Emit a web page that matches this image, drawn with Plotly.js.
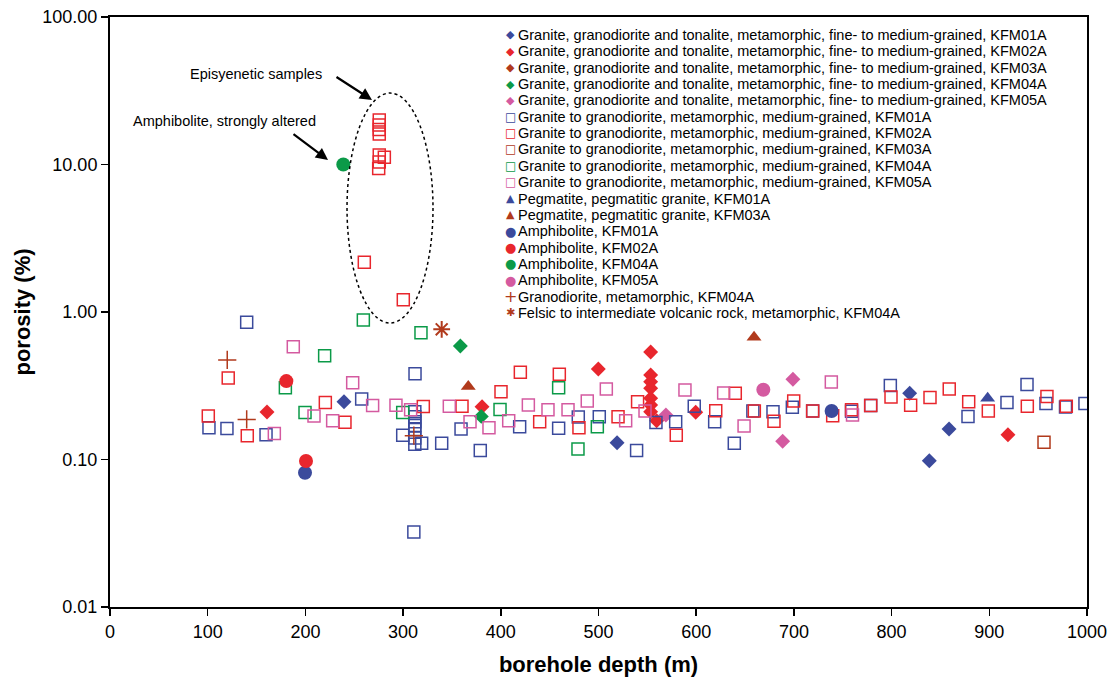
<!DOCTYPE html>
<html>
<head>
<meta charset="utf-8">
<script src="https://cdn.plot.ly/plotly-3.0.1.min.js"></script>
<style>html,body{margin:0;padding:0;background:#fff;}#chart{width:1115px;height:684px;}</style>
</head>
<body>
<div id="chart"></div>
<script>
// ---- data (depth m, porosity %) ----
const fineKFM01A_x = [239.5, 519, 818.5, 838.6, 858.8];
const fineKFM01A_y = [0.246, 0.130, 0.281, 0.098, 0.161];
const fineKFM02A_x = [160.7, 380.8, 499.8, 553.4, 553.4, 553.4, 553.4, 553.4, 553.4, 553.4, 559.5, 599.5, 919.1];
const fineKFM02A_y = [0.210, 0.228, 0.411, 0.535, 0.374, 0.337, 0.304, 0.260, 0.234, 0.211, 0.183, 0.209, 0.147];
const fineKFM03A_x = [];
const fineKFM03A_y = [];
const fineKFM04A_x = [358.6, 380];
const fineKFM04A_y = [0.588, 0.196];
const fineKFM05A_x = [569, 699, 688.5];
const fineKFM05A_y = [0.200, 0.350, 0.133];

const medKFM01A_x = [101.3, 119.7, 139.9, 159.7, 257.6, 299.6, 312.2, 312, 312, 312, 312, 312, 312, 312, 311, 319, 339.5, 359.3, 379, 419.3, 459.2, 479.3, 500.8, 539, 558.8, 579, 598, 618.9, 639, 658, 678.6, 698.4, 719.2, 759, 778.6, 798.7, 878.2, 918.1, 938.6, 958, 978, 997.9];
const medKFM01A_y = [0.164, 0.162, 0.851, 0.147, 0.257, 0.146, 0.382, 0.211, 0.195, 0.180, 0.170, 0.160, 0.140, 0.127, 0.0322, 0.129, 0.129, 0.161, 0.115, 0.167, 0.163, 0.194, 0.195, 0.115, 0.178, 0.180, 0.230, 0.180, 0.129, 0.213, 0.211, 0.226, 0.213, 0.212, 0.232, 0.317, 0.196, 0.243, 0.323, 0.240, 0.227, 0.240];
const medKFM02A_x = [100.6, 121, 140.5, 220.4, 240.5, 260.3, 275.6, 275.6, 275.6, 275.6, 275.6, 280.8, 275.6, 275, 300.2, 320.7, 360.3, 400.2, 420, 439.8, 459.9, 480, 520, 540, 579.6, 620, 640, 659.5, 679.6, 699.8, 719.2, 739.7, 759, 778.6, 799.4, 819.5, 839.3, 859, 878.9, 899, 938.9, 959, 978.8];
const medKFM02A_y = [0.197, 0.357, 0.145, 0.243, 0.179, 2.17, 20.0, 18.5, 17.3, 16.1, 11.6, 11.2, 10.4, 9.4, 1.21, 0.229, 0.230, 0.288, 0.390, 0.180, 0.378, 0.164, 0.195, 0.246, 0.146, 0.214, 0.281, 0.213, 0.182, 0.249, 0.213, 0.198, 0.217, 0.232, 0.265, 0.233, 0.263, 0.301, 0.246, 0.213, 0.230, 0.267, 0.230];
const medKFM03A_x = [956];
const medKFM03A_y = [0.131];
const medKFM04A_x = [179.5, 199.6, 219.7, 259.3, 299.6, 318.3, 399.2, 459.2, 479, 498.8];
const medKFM04A_y = [0.307, 0.208, 0.506, 0.883, 0.208, 0.724, 0.218, 0.307, 0.118, 0.167];
const medKFM05A_x = [168.2, 187.6, 208.8, 227.9, 248.4, 268.8, 292.7, 307.7, 347.3, 368.5, 387.9, 408.1, 428.2, 448.3, 468.8, 488.5, 508, 527.8, 547.6, 588.5, 628.1, 649, 738.3, 760];
const medKFM05A_y = [0.150, 0.582, 0.197, 0.183, 0.332, 0.232, 0.233, 0.217, 0.230, 0.180, 0.164, 0.183, 0.234, 0.217, 0.217, 0.249, 0.301, 0.183, 0.213, 0.296, 0.282, 0.169, 0.335, 0.200];

const pegKFM01A_x = [898.3];
const pegKFM01A_y = [0.26];
const pegKFM03A_x = [366.7, 659.2];
const pegKFM03A_y = [0.312, 0.673];

const amphKFM01A_x = [199.6, 738.6];
const amphKFM01A_y = [0.0814, 0.213];
const amphKFM02A_x = [180.5, 200.6];
const amphKFM02A_y = [0.340, 0.0977];
const amphKFM04A_x = [238.8];
const amphKFM04A_y = [10.0];
const amphKFM05A_x = [668.7];
const amphKFM05A_y = [0.297];

const granodKFM04A_x = [120, 139.9, 311];
const granodKFM04A_y = [0.473, 0.187, 0.145];
const felsicKFM04A_x = [339.5];
const felsicKFM04A_y = [0.763];

const yTickVals = [0.01, 0.1, 1, 10, 100];
const yTickText = ['0.01', '0.10', '1.00', '10.00', '100.00'];

// ---- styles ----
const C = {blue: '#3b4a9c', red: '#e8262d', brown: '#b13a1c', green: '#0b9a48', pink: '#d45aa0'};
const FINE = 'Granite, granodiorite and tonalite, metamorphic, fine- to medium-grained, ';
const MED = 'Granite to granodiorite, metamorphic, medium-grained, ';
const FONT = 'Liberation Sans, Arial, Helvetica, sans-serif';

// series definitions: [name, x, y, plotly symbol, colour, size, open, line width, legend glyph]
const series = [
  [FINE + 'KFM01A', fineKFM01A_x, fineKFM01A_y, 'diamond', C.blue, 11.5, false, 0, '\u25C6'],
  [FINE + 'KFM02A', fineKFM02A_x, fineKFM02A_y, 'diamond', C.red, 11.5, false, 0, '\u25C6'],
  [FINE + 'KFM03A', fineKFM03A_x, fineKFM03A_y, 'diamond', C.brown, 11.5, false, 0, '\u25C6'],
  [FINE + 'KFM04A', fineKFM04A_x, fineKFM04A_y, 'diamond', C.green, 11.5, false, 0, '\u25C6'],
  [FINE + 'KFM05A', fineKFM05A_x, fineKFM05A_y, 'diamond', C.pink, 11.5, false, 0, '\u25C6'],
  [MED + 'KFM01A', medKFM01A_x, medKFM01A_y, 'square-open', C.blue, 12, true, 1.5, '\u25A1'],
  [MED + 'KFM02A', medKFM02A_x, medKFM02A_y, 'square-open', C.red, 12, true, 1.5, '\u25A1'],
  [MED + 'KFM03A', medKFM03A_x, medKFM03A_y, 'square-open', C.brown, 12, true, 1.5, '\u25A1'],
  [MED + 'KFM04A', medKFM04A_x, medKFM04A_y, 'square-open', C.green, 12, true, 1.5, '\u25A1'],
  [MED + 'KFM05A', medKFM05A_x, medKFM05A_y, 'square-open', C.pink, 12, true, 1.5, '\u25A1'],
  ['Pegmatite, pegmatitic granite, KFM01A', pegKFM01A_x, pegKFM01A_y, 'triangle-up', C.blue, 13, false, 0, '\u25B2'],
  ['Pegmatite, pegmatitic granite, KFM03A', pegKFM03A_x, pegKFM03A_y, 'triangle-up', C.brown, 13, false, 0, '\u25B2'],
  ['Amphibolite, KFM01A', amphKFM01A_x, amphKFM01A_y, 'circle', C.blue, 14, false, 0, '\u25CF'],
  ['Amphibolite, KFM02A', amphKFM02A_x, amphKFM02A_y, 'circle', C.red, 14, false, 0, '\u25CF'],
  ['Amphibolite, KFM04A', amphKFM04A_x, amphKFM04A_y, 'circle', C.green, 14, false, 0, '\u25CF'],
  ['Amphibolite, KFM05A', amphKFM05A_x, amphKFM05A_y, 'circle', C.pink, 14, false, 0, '\u25CF'],
  ['Granodiorite, metamorphic, KFM04A', granodKFM04A_x, granodKFM04A_y, 'cross-thin-open', C.brown, 13, true, 1.5, '+'],
  ['Felsic to intermediate volcanic rock, metamorphic, KFM04A', felsicKFM04A_x, felsicKFM04A_y, 'asterisk-open', C.brown, 14, true, 2, '\u2731']
];

const data = series.map(s => ({
  type: 'scatter', mode: 'markers', name: s[0], x: s[1], y: s[2], showlegend: false,
  marker: s[6]
    ? {symbol: s[3], size: s[5], color: s[4], line: {color: s[4], width: s[7]}}
    : {symbol: s[3], size: s[5], color: s[4], line: {width: 0}}
}));

// ---- layout geometry (pixels) ----
const W = 1115, H = 684;
const M = {l: 110, r: 28, t: 17, b: 77};
const PW = W - M.l - M.r, PH = H - M.t - M.b;
const px2paperX = px => (px - M.l) / PW;
const px2paperY = py => 1 - (py - M.t) / PH;

// legend drawn as text lines (tight line spacing like the original)
const LEG_X_KEY = 510, LEG_X_TEXT = 516, LEG_Y0 = 35, LEG_DY = 16.35;
const glyphSizes = {'\u25C6': 11, '\u25A1': 12, '\u25B2': 11, '\u25CF': 13, '+': 16, '\u2731': 11};
const annotations = [];
series.forEach((s, i) => {
  const y = px2paperY(LEG_Y0 + i * LEG_DY);
  annotations.push({xref: 'paper', yref: 'paper', x: px2paperX(LEG_X_KEY), y: y, xanchor: 'center', yanchor: 'middle',
    text: s[8], showarrow: false, font: {family: 'DejaVu Sans, sans-serif', size: glyphSizes[s[8]], color: s[4]}});
  annotations.push({xref: 'paper', yref: 'paper', x: px2paperX(LEG_X_TEXT), y: y, xanchor: 'left', yanchor: 'middle',
    text: s[0], showarrow: false, font: {family: FONT, size: 14.5, color: '#000'}});
});

annotations.push(
  {xref: 'paper', yref: 'paper', x: px2paperX(256), y: px2paperY(74), xanchor: 'center', yanchor: 'middle',
   text: 'Episyenetic samples', showarrow: false, font: {family: FONT, size: 14.5, color: '#000'}},
  {xref: 'paper', yref: 'paper', x: px2paperX(224), y: px2paperY(120.5), xanchor: 'center', yanchor: 'middle',
   text: 'Amphibolite, strongly altered', showarrow: false, font: {family: FONT, size: 14.5, color: '#000'}},
  {xref: 'paper', yref: 'paper', x: px2paperX(372), y: px2paperY(100), text: '', showarrow: true,
   arrowhead: 2, arrowsize: 1.1, arrowwidth: 2.2, arrowcolor: '#000', ax: -37, ay: -24},
  {xref: 'paper', yref: 'paper', x: px2paperX(328), y: px2paperY(160), text: '', showarrow: true,
   arrowhead: 2, arrowsize: 1.1, arrowwidth: 2.2, arrowcolor: '#000', ax: -36, ay: -27}
);

const layout = {
  width: W, height: H,
  margin: M,
  paper_bgcolor: '#fff', plot_bgcolor: '#fff',
  font: {family: FONT, color: '#000'},
  showlegend: false,
  xaxis: {
    range: [0, 1000], dtick: 100, tick0: 0,
    showgrid: false, zeroline: false,
    showline: true, linecolor: '#000', linewidth: 2, mirror: true,
    ticks: 'outside', ticklen: 7, tickcolor: '#000', tickwidth: 1.5,
    tickfont: {family: FONT, size: 18, color: '#000'},
    title: {text: '<b>borehole depth (m)</b>', font: {family: FONT, size: 22, color: '#000'}, standoff: 16}
  },
  yaxis: {
    type: 'log', range: [-2, 2],
    tickvals: yTickVals, ticktext: yTickText,
    showgrid: false, zeroline: false,
    showline: true, linecolor: '#000', linewidth: 2, mirror: true,
    ticks: 'outside', ticklen: 7, tickcolor: '#000', tickwidth: 1.5,
    tickfont: {family: FONT, size: 18, color: '#000'},
    title: {text: '<b>porosity (%)</b>', font: {family: FONT, size: 22, color: '#000'}, standoff: 6}
  },
  shapes: [
    {type: 'circle', xref: 'x', yref: 'y', x0: 242.6, x1: 330.6, y0: 0.842, y1: 30.5,
     line: {color: '#000', width: 1.5, dash: 'dot'}}
  ],
  annotations: annotations
};

Plotly.newPlot('chart', data, layout, {displayModeBar: false, staticPlot: true});
</script>
</body>
</html>
